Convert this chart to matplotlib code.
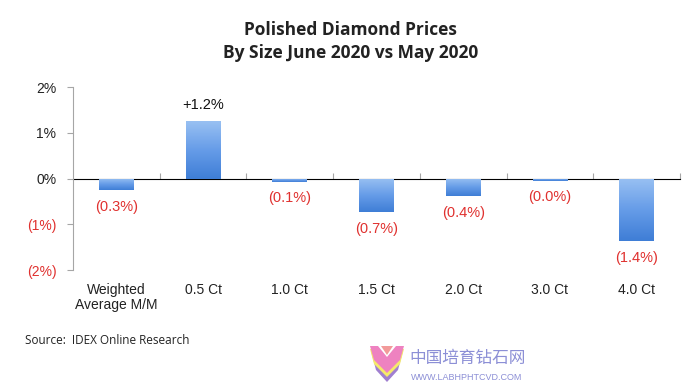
import numpy as np
import matplotlib.pyplot as plt
from matplotlib.colors import LinearSegmentedColormap
from matplotlib.patches import Polygon

# data
categories = ["Weighted\nAverage M/M", "0.5 Ct", "1.0 Ct", "1.5 Ct",
              "2.0 Ct", "3.0 Ct", "4.0 Ct"]
changes = [-0.25, 1.25, -0.07, -0.74, -0.39, -0.05, -1.37]
value_labels = ["(0.3%)", "+1.2%", "(0.1%)", "(0.7%)", "(0.4%)",
                "(0.0%)", "(1.4%)"]
y_ticks = [-2, -1, 0, 1, 2]
y_tick_labels = ["(2%)", "(1%)", "0%", "1%", "2%"]

RED = "#e0312f"
GRAY = "#a6a6a6"

plt.rcParams["font.family"] = ["Liberation Sans", "DejaVu Sans"]

fig = plt.figure(figsize=(6.91, 3.86), dpi=100)
ax = fig.add_axes([0.1056, 0.3005, 0.8784, 0.4741])

x = np.arange(len(categories))
bars = ax.bar(x, changes, width=0.4, color="#6a9ee8", zorder=2)

# vertical gradient inside every bar
cmap = LinearSegmentedColormap.from_list("blu", ["#3f7ed6", "#669ce8", "#98c0f2"])
grad = np.linspace(0, 1, 100).reshape(-1, 1)
for b in bars:
    x0, y0 = b.get_x(), b.get_y()
    w, h = b.get_width(), b.get_height()
    lo, hi = min(y0, y0 + h), max(y0, y0 + h)
    im = ax.imshow(grad, cmap=cmap, aspect="auto", origin="lower",
                   extent=[x0, x0 + w, lo, hi], zorder=3)
    im.set_clip_path(b)

ax.set_xlim(-0.5, len(categories) - 0.5)
ax.set_ylim(-2, 2)

# value labels
for xi, v, lab in zip(x, changes, value_labels):
    if v >= 0:
        ax.annotate(lab, (xi, v), xytext=(0, 12), textcoords="offset points",
                    ha="center", va="center", fontsize=10.5, color="#111111")
    else:
        ax.annotate(lab, (xi, v), xytext=(0, -12), textcoords="offset points",
                    ha="center", va="center", fontsize=10.5, color=RED)

# y axis
ax.set_yticks(y_ticks)
ax.set_yticklabels(y_tick_labels, fontsize=10)
for t, v in zip(ax.get_yticklabels(), y_ticks):
    t.set_color(RED if v < 0 else "#222222")
ax.tick_params(axis="y", length=4, color=GRAY, pad=8)

# category labels at the bottom
ax.set_xticks(x)
ax.set_xticklabels(categories, fontsize=10, color="#222222", linespacing=1.15)
ax.tick_params(axis="x", length=0, pad=9)

for s in ["top", "right", "bottom"]:
    ax.spines[s].set_visible(False)
ax.spines["left"].set_color(GRAY)

# zero line with small ticks between categories
zero_ax = ax.secondary_xaxis(0.5)
zero_ax.set_xticks(np.arange(len(categories)) + 0.5)
zero_ax.set_xticklabels([])
zero_ax.tick_params(length=4, color=GRAY)
zero_ax.spines["bottom"].set_color(GRAY)
zero_ax.spines["bottom"].set_linewidth(1.2)

fig.text(0.507, 0.892, "Polished Diamond Prices\nBy Size June 2020 vs May 2020",
         ha="center", va="center", fontsize=12.5, fontweight="bold",
         family=["Open Sans", "DejaVu Sans"], color="#222222", linespacing=1.35)

fig.text(0.036, 0.117, "Source:  IDEX Online Research", fontsize=8.5,
         family=["Open Sans", "DejaVu Sans"], color="#222222", va="center")

# watermark
fig.text(0.593, 0.070, "中国培育钻石网", fontsize=12, color="#8c8fd6",
         family=["Noto Sans CJK SC", "DejaVu Sans"], va="center")
fig.text(0.594, 0.022, "WWW.LABHPHTCVD.COM", fontsize=6.5, color="#8c8fd6",
         va="center")

def fig_xy(px, py):
    return (px / 691, 1 - py / 386)

logo = [
    ([(376, 370), (371, 351), (381, 351), (387, 362), (393, 351), (403, 351),
      (398, 370), (387, 382)], "#a07fd0"),
    ([(374, 364), (370, 349), (379, 349), (387, 360), (395, 349), (404, 349),
      (400, 364), (387, 377)], "#f5ea6a"),
    ([(374, 360), (370, 346), (378, 346), (387, 357), (396, 346), (404, 346),
      (400, 360), (387, 373)], "#ee82c0"),
    ([(381, 346), (393, 346), (387, 355)], "#f29a9a"),
]
for pts, col in logo:
    fig.patches.append(Polygon([fig_xy(*p) for p in pts], closed=True,
                               transform=fig.transFigure, color=col, lw=0))

fig.savefig("out.png", dpi=100)
